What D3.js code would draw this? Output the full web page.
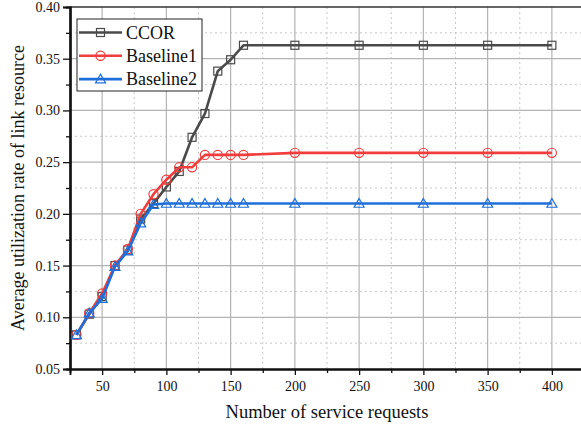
<!DOCTYPE html>
<html>
<head>
<meta charset="utf-8">
<script src="https://cdn.jsdelivr.net/npm/d3@7"></script>
<style>
  html, body { margin: 0; padding: 0; background: #fff; overflow: hidden; }
  svg { display: block; font-family: "Liberation Serif", "Times New Roman", serif; }
</style>
</head>
<body>
<svg id="chart" width="581" height="430"></svg>
<script>
// Number of service requests on the x axis
const requests = [30, 40, 50, 60, 70, 80, 90, 100, 110, 120, 130, 140, 150, 160, 200, 250, 300, 350, 400];

// Average link-resource utilisation for each method
const ccor      = [0.083, 0.103, 0.120, 0.150, 0.165, 0.195, 0.210, 0.226, 0.241, 0.274, 0.297, 0.338, 0.349, 0.363, 0.363, 0.363, 0.363, 0.363, 0.363];
const baseline1 = [0.083, 0.104, 0.123, 0.150, 0.166, 0.200, 0.219, 0.233, 0.245, 0.245, 0.257, 0.257, 0.257, 0.257, 0.259, 0.259, 0.259, 0.259, 0.259];
const baseline2 = [0.083, 0.104, 0.118, 0.149, 0.164, 0.191, 0.209, 0.210, 0.210, 0.210, 0.210, 0.210, 0.210, 0.210, 0.210, 0.210, 0.210, 0.210, 0.210];

const seriesNames = ["CCOR", "Baseline1", "Baseline2"];
const xTicks = [50, 100, 150, 200, 250, 300, 350, 400];
const yTicks = [0.05, 0.10, 0.15, 0.20, 0.25, 0.30, 0.35, 0.40];

const series = [
  { name: seriesNames[0], values: ccor,      color: "#4a4a4a", marker: "square" },
  { name: seriesNames[1], values: baseline1, color: "#f23d3d", marker: "circle" },
  { name: seriesNames[2], values: baseline2, color: "#1f6fdb", marker: "triangle" }
];

const svg = d3.select("#chart");
const plotL = 70, plotT = 7, plotR = 584, plotB = 369;

const x = d3.scaleLinear().domain([25, 425]).range([plotL, plotR]);
const y = d3.scaleLinear().domain([0.05, 0.40]).range([plotB, plotT]);

// Grid: dotted minor lines, solid major lines
const xMinor = d3.range(75, 425, 50);
const yMinor = d3.range(0.075, 0.40, 0.05);
const grid = svg.append("g");
grid.selectAll(".xm").data(xMinor).join("line")
  .attr("x1", d => x(d)).attr("x2", d => x(d)).attr("y1", plotT).attr("y2", plotB)
  .attr("stroke", "#c8c8c8").attr("stroke-width", 1).attr("stroke-dasharray", "2,3");
grid.selectAll(".ym").data(yMinor).join("line")
  .attr("x1", plotL).attr("x2", plotR).attr("y1", d => y(d)).attr("y2", d => y(d))
  .attr("stroke", "#c8c8c8").attr("stroke-width", 1).attr("stroke-dasharray", "2,3");
grid.selectAll(".xM").data(xTicks).join("line")
  .attr("x1", d => x(d)).attr("x2", d => x(d)).attr("y1", plotT).attr("y2", plotB)
  .attr("stroke", "#b4b4b4").attr("stroke-width", 1.2);
grid.selectAll(".yM").data(yTicks.slice(1, -1)).join("line")
  .attr("x1", plotL).attr("x2", plotR).attr("y1", d => y(d)).attr("y2", d => y(d))
  .attr("stroke", "#b4b4b4").attr("stroke-width", 1.2);

// Top frame
svg.append("line").attr("x1", plotL).attr("x2", plotR).attr("y1", plotT).attr("y2", plotT)
  .attr("stroke", "#333").attr("stroke-width", 1.5);

// Axes
const xAxis = svg.append("g").attr("transform", `translate(0,${plotB})`)
  .call(d3.axisBottom(x).tickValues(xTicks).tickSize(6).tickPadding(6).tickFormat(d3.format("d")));
const xAxisMinor = svg.append("g").attr("transform", `translate(0,${plotB})`)
  .call(d3.axisBottom(x).tickValues(xMinor).tickSize(4).tickFormat(""));
const yAxis = svg.append("g").attr("transform", `translate(${plotL},0)`)
  .call(d3.axisLeft(y).tickValues(yTicks).tickSize(7).tickPadding(3).tickFormat(d3.format(".2f")));
const yAxisMinor = svg.append("g").attr("transform", `translate(${plotL},0)`)
  .call(d3.axisLeft(y).tickValues(yMinor).tickSize(4).tickFormat(""));

[xAxis, xAxisMinor, yAxis, yAxisMinor].forEach(g => {
  g.select(".domain").attr("stroke", "#111").attr("stroke-width", 1.8);
  g.selectAll(".tick line").attr("stroke", "#111").attr("stroke-width", 1.3);
  g.selectAll("text").attr("font-family", "Liberation Serif, Times New Roman, serif")
    .attr("font-size", 14).attr("fill", "#111");
});
yAxis.select(".domain").attr("stroke-width", 2.2);
yAxisMinor.select(".domain").attr("stroke-width", 2.2);

// Axis titles
svg.append("text").attr("x", (plotL + plotR) / 2).attr("y", 418)
  .attr("text-anchor", "middle").attr("font-size", 18.5).attr("fill", "#111")
  .text("Number of service requests");
svg.append("text").attr("transform", `translate(24,${(plotT + plotB) / 2}) rotate(-90)`)
  .attr("text-anchor", "middle").attr("font-size", 18).attr("fill", "#111")
  .text("Average utilization rate of link resource");

// Marker drawing
function drawMarker(g, kind, cx, cy, color) {
  if (kind === "square") {
    g.append("rect").attr("x", cx - 4).attr("y", cy - 4).attr("width", 8).attr("height", 8)
      .attr("fill", "none").attr("stroke", color).attr("stroke-width", 1.2);
  } else if (kind === "circle") {
    g.append("circle").attr("cx", cx).attr("cy", cy).attr("r", 4.6)
      .attr("fill", "none").attr("stroke", color).attr("stroke-width", 1.2);
  } else {
    const s = 5;
    g.append("path")
      .attr("d", `M${cx},${cy - s}L${cx + s},${cy + s * 0.75}L${cx - s},${cy + s * 0.75}Z`)
      .attr("fill", "none").attr("stroke", color).attr("stroke-width", 1.2);
  }
}

const line = d3.line().x(d => x(d[0])).y(d => y(d[1]));
const plot = svg.append("g");
series.forEach(s => {
  const pts = requests.map((r, i) => [r, s.values[i]]);
  const g = plot.append("g");
  g.append("path").datum(pts).attr("d", line)
    .attr("fill", "none").attr("stroke", s.color).attr("stroke-width", 2.6)
    .attr("stroke-linejoin", "round");
  pts.forEach(p => drawMarker(g, s.marker, x(p[0]), y(p[1]), s.color));
});

// Legend
const lg = svg.append("g");
lg.append("rect").attr("x", 77).attr("y", 19).attr("width", 125).attr("height", 72)
  .attr("fill", "#fff").attr("stroke", "#222").attr("stroke-width", 1);
series.forEach((s, i) => {
  const cy = 32.5 + i * 23.3;
  lg.append("line").attr("x1", 79).attr("x2", 122).attr("y1", cy).attr("y2", cy)
    .attr("stroke", s.color).attr("stroke-width", 2.6);
  drawMarker(lg, s.marker, 100.5, cy, s.color);
  lg.append("text").attr("x", 126).attr("y", cy + 6).attr("font-size", 18).attr("fill", "#111")
    .text(s.name);
});
</script>
</body>
</html>
